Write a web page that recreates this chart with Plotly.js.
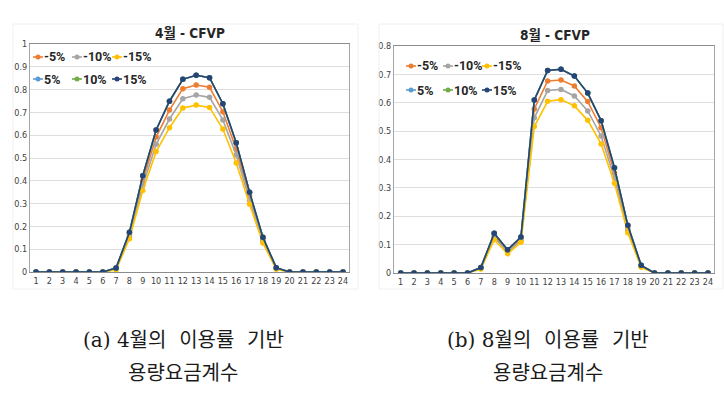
<!DOCTYPE html>
<html>
<head>
<meta charset="utf-8">
<script src="https://cdn.plot.ly/plotly-3.0.1.min.js"></script>
<style>
  html, body { margin: 0; padding: 0; background: #ffffff; }
  #chart { width: 724px; height: 396px; }
</style>
</head>
<body>
<div id="chart"></div>
<script>
// ---------- data ----------
const hours = [1,2,3,4,5,6,7,8,9,10,11,12,13,14,15,16,17,18,19,20,21,22,23,24];

const seriesNames  = ['-5%', '-10%', '-15%', '5%', '10%', '15%'];
const seriesColors = ['#ED7D31', '#A5A5A5', '#FFC000', '#5B9BD5', '#70AD47', '#264478'];

// April (4월) capacity charge coefficients
const aprM5  = [0,0,0,0,0,0,0.016,0.165,0.400,0.592,0.710,0.804,0.820,0.810,0.703,0.538,0.333,0.144,0.016,0,0,0,0,0];
const aprM10 = [0,0,0,0,0,0,0.013,0.155,0.380,0.560,0.671,0.760,0.776,0.766,0.667,0.513,0.315,0.135,0.014,0,0,0,0,0];
const aprM15 = [0,0,0,0,0,0,0.010,0.146,0.357,0.528,0.633,0.719,0.732,0.722,0.627,0.478,0.297,0.127,0.012,0,0,0,0,0];
const aprP5  = [0,0,0,0,0,0,0.018,0.174,0.422,0.623,0.749,0.845,0.863,0.852,0.738,0.567,0.350,0.152,0.019,0,0,0,0,0];
const aprP10 = [0,0,0,0,0,0,0.018,0.174,0.422,0.623,0.749,0.845,0.863,0.852,0.738,0.567,0.350,0.152,0.019,0,0,0,0,0];
const aprP15 = [0,0,0,0,0,0,0.018,0.174,0.422,0.623,0.749,0.845,0.863,0.852,0.738,0.567,0.350,0.152,0.019,0,0,0,0,0];

// August (8월) capacity charge coefficients
const augM5  = [0,0,0,0,0,0,0.018,0.132,0.078,0.120,0.578,0.677,0.680,0.659,0.604,0.512,0.352,0.159,0.025,0,0,0,0,0];
const augM10 = [0,0,0,0,0,0,0.016,0.125,0.073,0.114,0.547,0.643,0.647,0.624,0.571,0.483,0.335,0.151,0.023,0,0,0,0,0];
const augM15 = [0,0,0,0,0,0,0.014,0.117,0.068,0.108,0.516,0.605,0.611,0.589,0.538,0.455,0.316,0.142,0.020,0,0,0,0,0];
const augP5  = [0,0,0,0,0,0,0.019,0.140,0.082,0.127,0.610,0.714,0.718,0.694,0.634,0.537,0.371,0.168,0.027,0,0,0,0,0];
const augP10 = [0,0,0,0,0,0,0.019,0.140,0.082,0.127,0.610,0.714,0.718,0.694,0.634,0.537,0.371,0.168,0.027,0,0,0,0,0];
const augP15 = [0,0,0,0,0,0,0.019,0.140,0.082,0.127,0.610,0.714,0.718,0.694,0.634,0.537,0.371,0.168,0.027,0,0,0,0,0];

const chartTitles = ['4월 - CFVP', '8월 - CFVP'];
const captionLine1 = ['(a)\u00a04월의\u00a0\u00a0이용률\u00a0\u00a0기반', '(b)\u00a08월의\u00a0\u00a0이용률\u00a0\u00a0기반'];
const captionLine2 = ['용량요금계수', '용량요금계수'];

// ---------- build ----------
const W = 724, H = 396;
const px = v => v / W;
const py = v => 1 - v / H;

const aprSeries = [aprM5, aprM10, aprM15, aprP5, aprP10, aprP15];
const augSeries = [augM5, augM10, augM15, augP5, augP10, augP15];

const traces = [];
function addTraces(set, xa, ya) {
  set.forEach((ys, i) => {
    traces.push({
      x: hours, y: ys, xaxis: xa, yaxis: ya,
      type: 'scatter', mode: 'lines+markers',
      name: seriesNames[i], showlegend: false,
      line: { color: seriesColors[i], width: 1.6 },
      marker: { color: seriesColors[i], size: 5.5 },
      hoverinfo: 'x+y+name'
    });
  });
}
addTraces(aprSeries, 'x', 'y');
addTraces(augSeries, 'x2', 'y2');

const narrow = 'DejaVu Sans Condensed, Liberation Sans Narrow, Roboto, sans-serif';
const tickFont = { family: narrow, size: 9, color: '#404040' };

function xAxis(domain, range) {
  return {
    domain: domain, range: range, tickmode: 'array', tickvals: hours,
    ticktext: hours.map(String), tickfont: tickFont, ticks: '', tickangle: 0,
    showgrid: false, zeroline: false, showline: true, linecolor: '#8c8c8c',
    linewidth: 1.2, mirror: true, fixedrange: true
  };
}
function yAxis(domain, range, anchor) {
  return {
    domain: domain, range: range, dtick: 0.1, tick0: 0, anchor: anchor,
    tickfont: tickFont, ticks: '', showgrid: true, gridcolor: '#dedede',
    gridwidth: 1, zeroline: false, showline: true, linecolor: '#a6a6a6',
    mirror: true, fixedrange: true
  };
}

const annotations = [];
const shapes = [];

// faint chart frames
shapes.push({ type: 'rect', xref: 'paper', yref: 'paper', x0: px(13), x1: px(358), y0: py(289), y1: py(24), line: { color: '#f0f0f0', width: 1 } });
shapes.push({ type: 'rect', xref: 'paper', yref: 'paper', x0: px(379), x1: px(723), y0: py(289), y1: py(24), line: { color: '#f0f0f0', width: 1 } });

// chart titles
const titlePos = [[190, 33], [555, 35]];
chartTitles.forEach((t, i) => {
  annotations.push({
    text: '<b>' + t + '</b>', xref: 'paper', yref: 'paper',
    x: px(titlePos[i][0]), y: py(titlePos[i][1]), xanchor: 'center', yanchor: 'middle',
    showarrow: false, font: { family: narrow + ', Noto Sans CJK KR', size: 13.5, color: '#262626' }
  });
});

// legends (inside plot, top-left, 3 columns x 2 rows)
const legendCols = [[38, 77, 117], [411, 448, 487]];
const legendRows = [[57, 79], [66, 90]];
[0, 1].forEach(c => {
  seriesNames.forEach((n, i) => {
    const cx = legendCols[c][i % 3];
    const cy = legendRows[c][Math.floor(i / 3)];
    shapes.push({ type: 'line', xref: 'paper', yref: 'paper', x0: px(cx - 5), x1: px(cx + 5), y0: py(cy), y1: py(cy), line: { color: seriesColors[i], width: 1.6 } });
    shapes.push({ type: 'circle', xref: 'paper', yref: 'paper', x0: px(cx - 2.5), x1: px(cx + 2.5), y0: py(cy + 2.5), y1: py(cy - 2.5), fillcolor: seriesColors[i], line: { color: seriesColors[i], width: 0 } });
    annotations.push({
      text: '<b>' + n + '</b>', xref: 'paper', yref: 'paper',
      x: px(cx + 3.5), y: py(cy), xanchor: 'left', yanchor: 'middle',
      showarrow: false, font: { family: 'Roboto, sans-serif', size: 12.5, color: '#262626' }
    });
  });
});

// captions (two lines each)
const capPos = [183, 548];
const capFont = { family: 'DejaVu Serif, Noto Sans CJK KR, serif', size: 20, color: '#1a1a1a' };
capPos.forEach((cx, i) => {
  annotations.push({
    text: captionLine1[i], xref: 'paper', yref: 'paper', x: px(cx), y: py(340),
    xanchor: 'center', yanchor: 'middle', showarrow: false, font: capFont
  });
  annotations.push({
    text: captionLine2[i], xref: 'paper', yref: 'paper', x: px(cx), y: py(373),
    xanchor: 'center', yanchor: 'middle', showarrow: false, font: capFont
  });
});

const layout = {
  width: W, height: H,
  margin: { l: 0, r: 0, t: 0, b: 0 },
  paper_bgcolor: '#ffffff', plot_bgcolor: '#ffffff',
  showlegend: false,
  xaxis:  xAxis([px(30), px(349)], [0.55, 24.45]),
  yaxis:  yAxis([py(272), py(44)], [0, 1], 'x'),
  xaxis2: xAxis([px(394), px(714)], [0.5, 24.45]),
  yaxis2: yAxis([py(273), py(46)], [0, 0.8], 'x2'),
  annotations: annotations,
  shapes: shapes
};
layout.xaxis.anchor = 'y';
layout.xaxis2.anchor = 'y2';

Plotly.newPlot('chart', traces, layout, { displayModeBar: false, staticPlot: true });
</script>
</body>
</html>
